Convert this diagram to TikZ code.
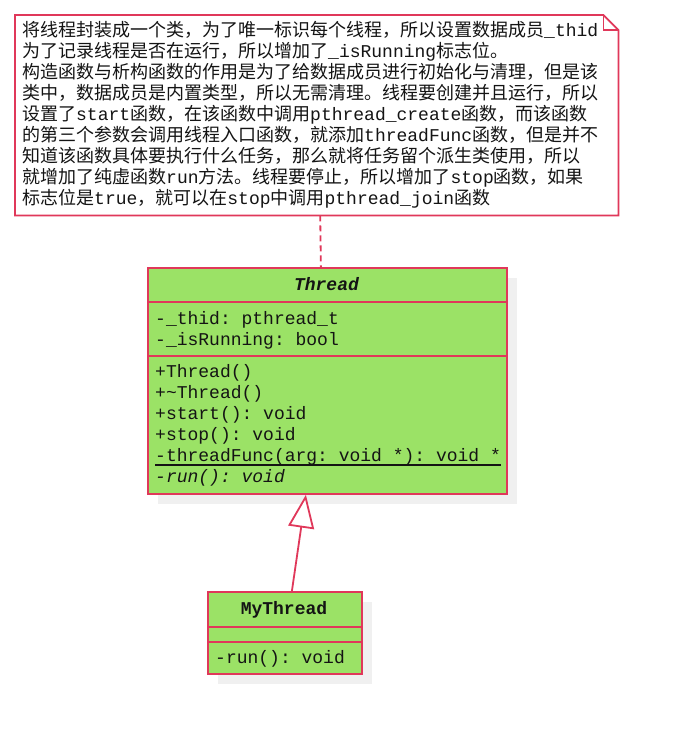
\documentclass[tikz,border=0pt]{standalone}
\usepackage{fontspec}
\setmainfont{Liberation Mono}
\setmonofont{Liberation Mono}
\newfontfamily\cjk{Noto Sans CJK SC}
\usetikzlibrary{positioning,shadows,arrows.meta}
\definecolor{umlred}{RGB}{224,56,90}
\definecolor{umlgreen}{RGB}{155,226,102}
\definecolor{shade}{RGB}{240,240,240}
\definecolor{ink}{RGB}{20,20,20}
\frenchspacing

\begin{document}
\begin{tikzpicture}[x=1pt,y=-1pt, font=\fontsize{18}{21}\selectfont, text=ink,
  classbox/.style={draw=umlred, fill=umlgreen, line width=1.8pt, inner sep=0, anchor=north west,
    drop shadow={shadow xshift=10pt, shadow yshift=-10pt, fill=shade, opacity=1}},
  sep/.style={draw=umlred, line width=1.8pt},
  member/.style={anchor=base west, inner sep=0},
  classname/.style={anchor=base, inner sep=0},
  ]
	\useasboundingbox[fill=white] (0,0) rectangle (679,733);

	% note
	\node[minimum width=603, minimum height=200, inner sep=0, anchor=north west] (note) at (15,15) {};
	\draw[sep, fill=white] (note.south west) -- (note.north west) -- ([xshift=-15pt]note.north east)
		-- ([yshift=-15pt]note.north east) -- (note.south east) -- cycle;
	\draw[sep] ([xshift=-15pt]note.north east) -- ([xshift=-15pt,yshift=-15pt]note.north east) -- ([yshift=-15pt]note.north east);
	\node[anchor=north west, inner sep=0, align=left, font=\fontsize{18}{21}\selectfont\cjk] (notetext) at ([xshift=7pt,yshift=-6pt]note.north west) {%
将线程封装成一个类，为了唯一标识每个线程，所以设置数据成员\texttt{\_thid}\\
为了记录线程是否在运行，所以增加了\texttt{\_isRunning}标志位。\\
构造函数与析构函数的作用是为了给数据成员进行初始化与清理，但是该\\
类中，数据成员是内置类型，所以无需清理。线程要创建并且运行，所以\\
设置了\texttt{start}函数，在该函数中调用\texttt{pthread\_create}函数，而该函数\\
的第三个参数会调用线程入口函数，就添加\texttt{threadFunc}函数，但是并不\\
知道该函数具体要执行什么任务，那么就将任务留个派生类使用，所以\\
就增加了纯虚函数\texttt{run}方法。线程要停止，所以增加了\texttt{stop}函数，如果\\
标志位是\texttt{true}，就可以在\texttt{stop}中调用\texttt{pthread\_join}函数};

	% Thread
	\node[classbox, minimum width=359, minimum height=226] (thread) at (147,267) {};
	\draw[sep] ([yshift=-35pt]thread.north west) -- ([yshift=-35pt]thread.north east);
	\draw[sep] ([yshift=-89pt]thread.north west) -- ([yshift=-89pt]thread.north east);
	\node[classname, font=\fontsize{18}{21}\selectfont\bfseries\itshape] (threadname) at (326.5,290) {Thread};
	\node[member] (thid) at (155,324) {-\_thid: pthread\_t};
	\node[member] (running) at (155,345) {-\_isRunning: bool};
	\node[member] (ctor) at (155,377) {+Thread()};
	\node[member] (dtor) at (155,398) {+\textasciitilde Thread()};
	\node[member] (start) at (155,419) {+start(): void};
	\node[member] (stop) at (155,440) {+stop(): void};
	\node[member] (func) at (155,461) {-threadFunc(arg: void *): void *};
	\draw[ink, line width=1.2pt] ([yshift=-4pt]func.base west) -- ([yshift=-4pt]func.base east);
	\node[member] (run) at (155,482) {\itshape -run(): void};

	% MyThread
	\node[classbox, minimum width=154, minimum height=82] (mythread) at (207,591) {};
	\draw[sep] ([yshift=-36pt]mythread.north west) -- ([yshift=-36pt]mythread.north east);
	\draw[sep] ([yshift=-51pt]mythread.north west) -- ([yshift=-51pt]mythread.north east);
	\node[classname, font=\fontsize{18}{21}\selectfont\bfseries] (mythreadname) at (284,614) {MyThread};
	\node[member] (myrun) at (215,663) {-run(): void};

	\draw[sep, dash pattern=on 6pt off 4pt] ([xshift=3.5pt]note.south) -- ([xshift=-6.5pt]thread.north);
	\draw[sep, -{Triangle[fill=white, length=33pt, width=26pt]}] ([xshift=7pt]mythread.north) -- ([xshift=-21.5pt]thread.south);
\end{tikzpicture}
\end{document}
